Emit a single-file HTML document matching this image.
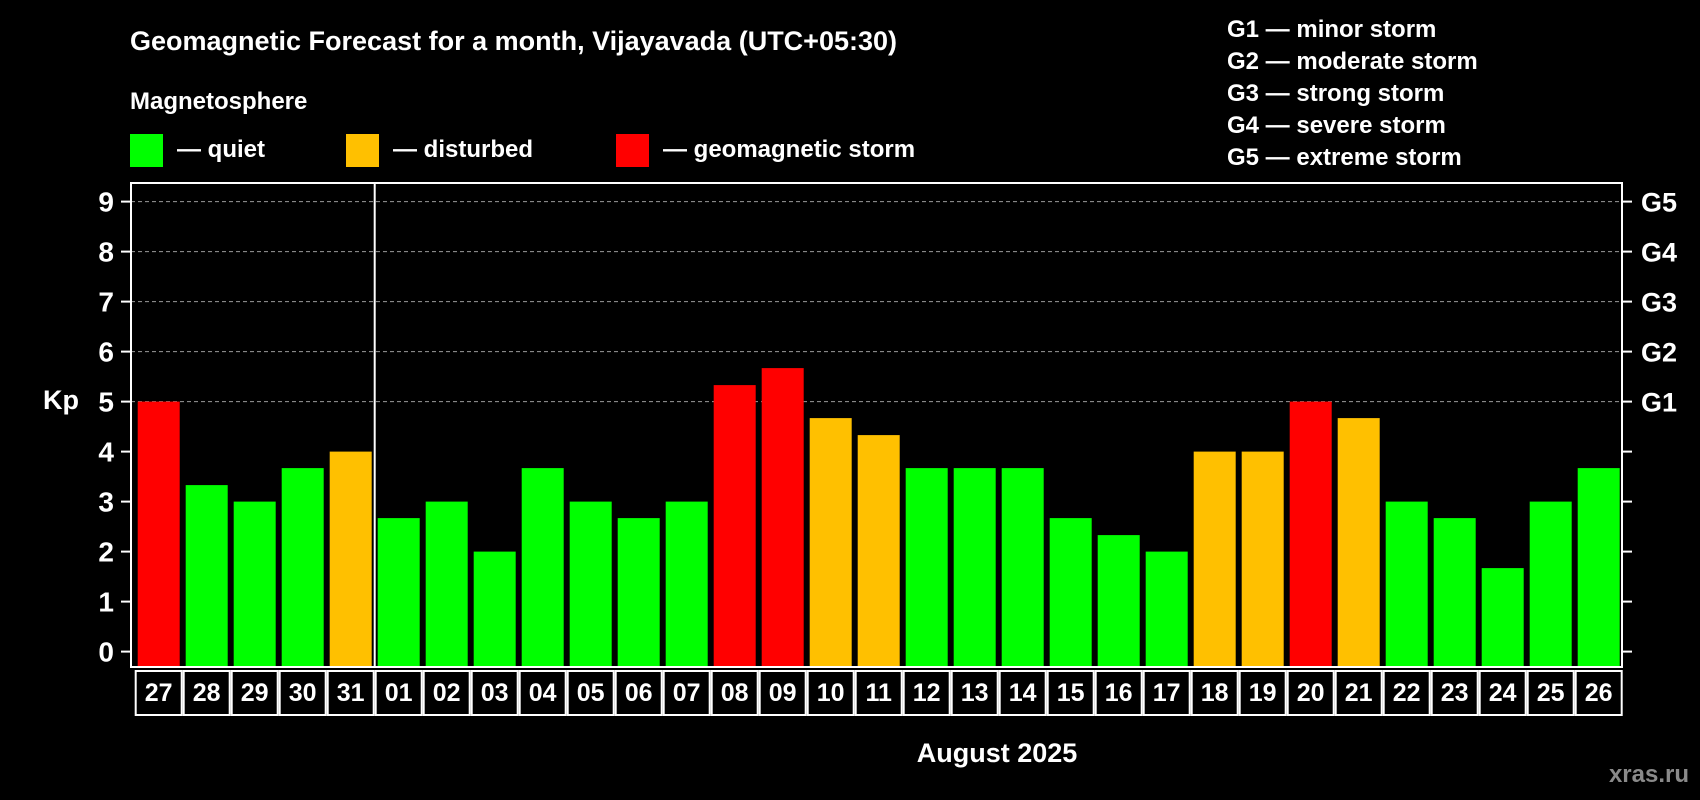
<!DOCTYPE html>
<html><head><meta charset="utf-8"><style>
html,body{margin:0;padding:0;background:#000;}
svg{display:block;font-family:"Liberation Sans",Arial,sans-serif;font-weight:bold;}
</style></head><body>
<svg id="chart" width="1700" height="800" viewBox="0 0 1700 800">
<rect x="0" y="0" width="1700" height="800" fill="#000"/>
<text x="130" y="50" fill="#fff" font-size="27">Geomagnetic Forecast for a month, Vijayavada (UTC+05:30)</text>
<text x="130" y="109" fill="#fff" font-size="24">Magnetosphere</text>
<g>
<rect x="130" y="134" width="33" height="33" fill="#00ff00"/>
<text x="177" y="157" fill="#fff" font-size="24">— quiet</text>
<rect x="346" y="134" width="33" height="33" fill="#ffc000"/>
<text x="393" y="157" fill="#fff" font-size="24">— disturbed</text>
<rect x="616" y="134" width="33" height="33" fill="#ff0000"/>
<text x="663" y="157" fill="#fff" font-size="24">— geomagnetic storm</text>
</g>
<g fill="#fff" font-size="24">
<text x="1227" y="37">G1 — minor storm</text>
<text x="1227" y="69">G2 — moderate storm</text>
<text x="1227" y="101">G3 — strong storm</text>
<text x="1227" y="133">G4 — severe storm</text>
<text x="1227" y="165">G5 — extreme storm</text>
</g>
<text x="43" y="409" fill="#fff" font-size="27">Kp</text>
<text x="997" y="762" fill="#fff" font-size="27" text-anchor="middle">August 2025</text>
<text x="1689" y="782" fill="#8a8a8a" font-size="24" text-anchor="end">xras.ru</text>
<g id="plot"></g>
</svg>
<script>
const days = ["27","28","29","30","31","01","02","03","04","05","06","07","08","09","10","11","12","13","14","15","16","17","18","19","20","21","22","23","24","25","26"];
const kpValues = [5,3.33,3,3.67,4,2.67,3,2,3.67,3,2.67,3,5.33,5.67,4.67,4.33,3.67,3.67,3.67,2.67,2.33,2,4,4,5,4.67,3,2.67,1.67,3,3.67];
const yTicks = [0,1,2,3,4,5,6,7,8,9];
const gLabels = ["G1","G2","G3","G4","G5"];
const gLevels = [5,6,7,8,9];
const monthStartIndex = 5;

const NS = "http://www.w3.org/2000/svg";
const plot = document.getElementById("plot");
const L = 131, R = 1622, T = 183, B = 667;
const y0 = 651.6, perUnit = 50;
const slotStart = 134.7, pitch = 48, barW = 42;
function yScale(v){ return y0 - v*perUnit; }
function xScale(i){ return slotStart + i*pitch; }
function mk(tag, attrs){ const e=document.createElementNS(NS,tag); for(const k in attrs) e.setAttribute(k,attrs[k]); plot.appendChild(e); return e; }
function colorFor(v){ return v>=5 ? "#ff0000" : (v>=4 ? "#ffc000" : "#00ff00"); }

// grid lines
gLevels.forEach(v=>{
  const g = mk("line",{x1:L,x2:R,y1:yScale(v),y2:yScale(v),stroke:"#9a9a9a","stroke-width":1,"stroke-dasharray":"4,3"});
  
  
});
// bars
kpValues.forEach((v,i)=>{
  const r = mk("rect",{x:xScale(i)+3,y:yScale(v),width:barW,height:B-yScale(v),fill:colorFor(v)});
  
  
});
// frame
const fr = mk("rect",{x:L,y:T,width:R-L,height:B-T,fill:"none",stroke:"#fff","stroke-width":2});


// month divider
const dx = xScale(monthStartIndex);
const dv = mk("line",{x1:dx,x2:dx,y1:T,y2:B,stroke:"#fff","stroke-width":2});


// y ticks
yTicks.forEach(v=>{
  const t1 = mk("line",{x1:L-10,x2:L,y1:yScale(v),y2:yScale(v),stroke:"#fff","stroke-width":2});
  
  
  const t2 = mk("line",{x1:R,x2:R+10,y1:yScale(v),y2:yScale(v),stroke:"#fff","stroke-width":2});
  
  
  const tx = mk("text",{x:114,y:yScale(v)+10,fill:"#fff","font-size":28,"text-anchor":"end"});
  tx.textContent = v;
  
  
});
gLabels.forEach((g,i)=>{
  const tx = mk("text",{x:1641,y:yScale(gLevels[i])+10,fill:"#fff","font-size":27});
  tx.textContent = g;
  
  
});
// x labels boxes
days.forEach((d,i)=>{
  const bx = mk("rect",{x:xScale(i)+1,y:671,width:pitch-2,height:44,fill:"#000",stroke:"#fff","stroke-width":2});
  
  
  const tx = mk("text",{x:xScale(i)+pitch/2,y:701,fill:"#fff","font-size":25,"text-anchor":"middle"});
  tx.textContent = d;
  
  
});
</script>
</body></html>
